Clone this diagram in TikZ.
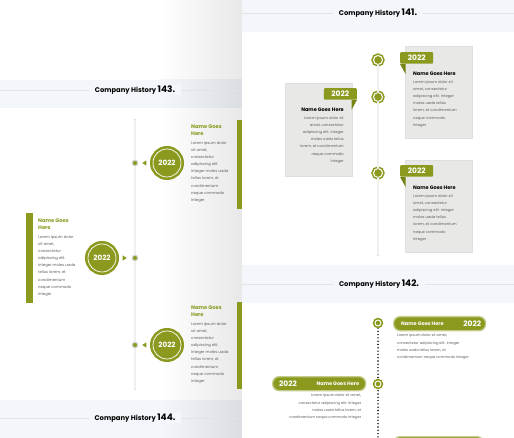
\documentclass[tikz,border=0pt]{standalone}
\usepackage{fontspec}
\setmainfont{Poppins}
\usetikzlibrary{positioning}
\usetikzlibrary{shadows}

\definecolor{histgreen}{RGB}{139,154,31}
\definecolor{tailgreen}{RGB}{118,132,22}
\definecolor{pillframe}{RGB}{196,204,140}
\definecolor{bandgray}{RGB}{243,246,250}
\definecolor{cardgray}{RGB}{232,232,230}
\definecolor{bodygray}{RGB}{95,95,95}

\begin{document}
\begin{tikzpicture}[x=1pt,y=-1pt,
    heading/.style={fill=bandgray, inner xsep=6pt, inner ysep=1pt, font=\bfseries\fontsize{6.8}{8}\selectfont},
    rule/.style={draw=gray!22, line width=0.7pt},
    rail/.style={draw=gray!45, line width=0.5pt, double=gray!12, double distance=1.3pt, line cap=round},
    dotrail/.style={draw=black, line width=1.6pt, dash pattern=on 0pt off 3.3pt, line cap=round},
    dot/.style={circle, fill=histgreen, draw=gray!35, line width=1.1pt, minimum size=5.5pt, inner sep=0pt},
    year/.style={circle, fill=histgreen, draw=white, line width=0.7pt, minimum size=28pt, inner sep=0pt, text=white,
      font=\bfseries\fontsize{7.2}{8}\selectfont, circular drop shadow={shadow xshift=0.6pt, shadow yshift=-0.8pt, opacity=.3},
      preaction={draw=histgreen, line width=6pt}},
    ring/.style={circle, fill=histgreen, draw=white, line width=1pt, minimum size=9pt, inner sep=0pt, preaction={draw=histgreen, line width=4.2pt}},
    smallring/.style={ring, minimum size=6pt, line width=0.9pt, preaction={draw=histgreen, line width=3pt}},
    leafname/.style={inner sep=0pt, align=left, text=histgreen, font=\bfseries\fontsize{5.2}{6.4}\selectfont},
    leaftext/.style={inner sep=0pt, align=left, text=bodygray, font=\fontsize{3.8}{7.15}\selectfont},
    card/.style={fill=cardgray, draw=gray!25, line width=0.8pt, inner sep=0pt},
    tag/.style={fill=histgreen, rounded corners=1pt, text=white, inner sep=0pt, minimum width=33pt, minimum height=11.5pt, font=\bfseries\fontsize{7.5}{8}\selectfont},
    cardname/.style={inner sep=0pt, font=\bfseries\fontsize{5}{6}\selectfont},
    cardtext/.style={inner sep=0pt, align=left, text=bodygray, font=\fontsize{3.7}{7.2}\selectfont},
    pill/.style={fill=histgreen, draw=pillframe, line width=1.3pt, rounded corners=6.5pt, minimum height=14pt, inner sep=0pt},
    pillname/.style={inner sep=0pt, text=white, font=\bfseries\fontsize{5}{6}\selectfont},
    pillyear/.style={inner sep=0pt, text=white, font=\bfseries\fontsize{7.5}{8}\selectfont},
  ]
  \useasboundingbox (0,0) rectangle (514,438);
  \clip (0,0) rectangle (514,438);

  % left slide
  \fill[white] (0,0) rectangle (160,438);
  \shade[left color=white, right color=black!9] (160,0) rectangle (242,438);
  \fill[bandgray] (0,80) rectangle (160,108);
  \fill[bandgray] (0,400) rectangle (160,438);
  \shade[left color=bandgray, right color=bandgray!90!black] (160,80) rectangle (242,108);
  \shade[left color=bandgray, right color=bandgray!90!black] (160,400) rectangle (242,438);
  \draw[rule] (0,90) -- (242,90);
  \node[heading] (histc) at (135,90) {Company History {\fontsize{9}{10}\selectfont 143.}};
  \draw[rule] (0,418) -- (242,418);
  \node[heading] (histd) at (135,418) {Company History {\fontsize{9}{10}\selectfont 144.}};

  \coordinate (railtop) at (135,120);
  \coordinate (railbot) at (135,389);
  \draw[rail] (railtop) -- (railbot);
  \node[dot] (dotone) at (135,163) {};
  \node[dot] (dottwo) at (135,258) {};
  \node[dot] (dotthree) at (135,345) {};
  \node[year] (yearone) at (167,163) {2022};
  \node[year] (yeartwo) at (102,258) {2022};
  \node[year] (yearthree) at (167,345) {2022};
  \fill[histgreen] ([xshift=4pt]dotone.east) -- ++(4,-2.6) -- ++(0,5.2) -- cycle;
  \fill[histgreen] ([xshift=-5pt]dottwo.west) -- ++(-4,-2.6) -- ++(0,5.2) -- cycle;
  \fill[histgreen] ([xshift=4pt]dotthree.east) -- ++(4,-2.6) -- ++(0,5.2) -- cycle;

  % text blocks
  \fill[histgreen] (237,120) rectangle (242,209);
  \fill[histgreen] (26,213) rectangle (33,303);
  \fill[histgreen] (237,302) rectangle (242,389);
  \node[leafname, anchor=north west] (nameone) at (191,125) {Name Goes\\Here};
  \node[leaftext, below=5.5pt of nameone.south west, anchor=north west] (textone)
    {Lorem ipsum dolor\\sit amet,\\consectetur\\adipiscing elit.\\Integer moles uada\\tellus lorem, et\\condimentum\\neque commodo\\Integer};
  \node[leafname, anchor=north west] (nametwo) at (38,219) {Name Goes\\Here};
  \node[leaftext, below=5.5pt of nametwo.south west, anchor=north west] (texttwo)
    {Lorem ipsum dolor\\sit amet,\\consectetur\\adipiscing elit.\\Integer moles uada\\tellus lorem, et\\condimentum\\neque commodo\\Integer};
  \node[leafname, anchor=north west] (namethree) at (191,306) {Name Goes\\Here};
  \node[leaftext, below=5.5pt of namethree.south west, anchor=north west] (textthree)
    {Lorem ipsum dolor\\sit amet,\\consectetur\\adipiscing elit.\\Integer moles uada\\tellus lorem, et\\condimentum\\neque commodo\\Integer};

  % right slide, top
  \fill[white] (242,0) rectangle (514,438);
  \fill[bandgray] (242,0) rectangle (514,32);
  \fill[bandgray] (242,265) rectangle (514,303);
  \draw[rule] (242,13) -- (514,13);
  \node[heading] (hista) at (378,13) {Company History {\fontsize{9}{10}\selectfont 141.}};
  \draw[rule] (242,284) -- (514,284);
  \node[heading] (histb) at (379,284) {Company History {\fontsize{9}{10}\selectfont 142.}};

  \coordinate (railendr) at (378,255);
  \node[ring] (ringone) at (378,60) {};
  \node[ring] (ringtwo) at (378,97) {};
  \node[ring] (ringthree) at (378,173) {};
  \draw[rail] (ringone) -- (ringtwo);
  \draw[rail] (ringtwo) -- (ringthree);
  \draw[rail] (ringthree) -- (railendr);

  \node[card, minimum width=67pt, minimum height=92pt, anchor=north west] (carda) at (405,46) {};
  \node[tag, anchor=north west] (taga) at (400,52) {2022};
  \fill[tailgreen] (taga.south west) -- ++(5.5,0) -- ++(0,10) -- cycle;
  \node[cardname, anchor=north west] (namea) at (413,72) {Name Goes Here};
  \node[cardtext, below=4pt of namea.south west, anchor=north west] (texta)
    {Lorem ipsum dolor sit\\amet, consectetur\\adipiscing elit. Integer\\moles uada tellus\\lorem, et condimentum\\neque commodo\\Integer};

  \node[card, minimum width=67pt, minimum height=93pt, anchor=north west] (cardb) at (285,83) {};
  \node[tag, anchor=north east] (tagb) at (357,88) {2022};
  \fill[tailgreen] (tagb.south east) -- ++(-5.5,0) -- ++(0,10) -- cycle;
  \node[cardname, anchor=north east] (nameb) at (344,108) {Name Goes Here};
  \node[cardtext, align=right, below=4pt of nameb.south east, anchor=north east] (textb)
    {Lorem ipsum dolor sit\\amet, consectetur\\adipiscing elit. Integer\\moles uada tellus\\lorem, et condimentum\\neque commodo\\Integer};

  \node[card, minimum width=67pt, minimum height=92pt, anchor=north west] (cardc) at (405,160) {};
  \node[tag, anchor=north west] (tagc) at (400,165) {2022};
  \fill[tailgreen] (tagc.south west) -- ++(5.5,0) -- ++(0,10) -- cycle;
  \node[cardname, anchor=north west] (namec) at (413,186) {Name Goes Here};
  \node[cardtext, below=4pt of namec.south west, anchor=north west] (textc)
    {Lorem ipsum dolor sit\\amet, consectetur\\adipiscing elit. Integer\\moles uada tellus\\lorem, et condimentum\\neque commodo\\Integer};

  % right slide, bottom
  \coordinate (dotend) at (378,442);
  \draw[dotrail] (378,328) -- (dotend);
  \node[smallring] (ringfour) at (378,323) {};
  \node[smallring] (ringfive) at (378,384) {};

  \node[pill, minimum width=92pt, anchor=north west] (pillone) at (393,316) {};
  \node[pillname, anchor=west] (pnameone) at ([xshift=8pt]pillone.west) {Name Goes Here};
  \node[pillyear, anchor=east] (pyearone) at ([xshift=-5pt]pillone.east) {2022};
  \node[cardtext, font=\fontsize{3.6}{7.3}\selectfont, below=2.5pt of pillone.south west, anchor=north west, xshift=4pt] (ptextone)
    {Lorem ipsum dolor sit amet,\\consectetur adipiscing elit. Integer\\moles uada tellus lorem, et\\condimentum neque commodo integer};

  \node[pill, minimum width=93pt, anchor=north west] (pilltwo) at (272,376) {};
  \node[pillyear, anchor=west] (pyeartwo) at ([xshift=7pt]pilltwo.west) {2022};
  \node[pillname, anchor=east] (pnametwo) at ([xshift=-7pt]pilltwo.east) {Name Goes Here};
  \node[cardtext, align=right, font=\fontsize{3.6}{7.3}\selectfont, below=2.5pt of pilltwo.south east, anchor=north east, xshift=-5pt] (ptexttwo)
    {Lorem ipsum dolor sit amet,\\consectetur adipiscing elit. Integer\\moles uada tellus lorem, et\\condimentum neque commodo integer};

  \node[pill, minimum width=90pt, anchor=north west] (pillthree) at (393,436) {};
\end{tikzpicture}
\end{document}
